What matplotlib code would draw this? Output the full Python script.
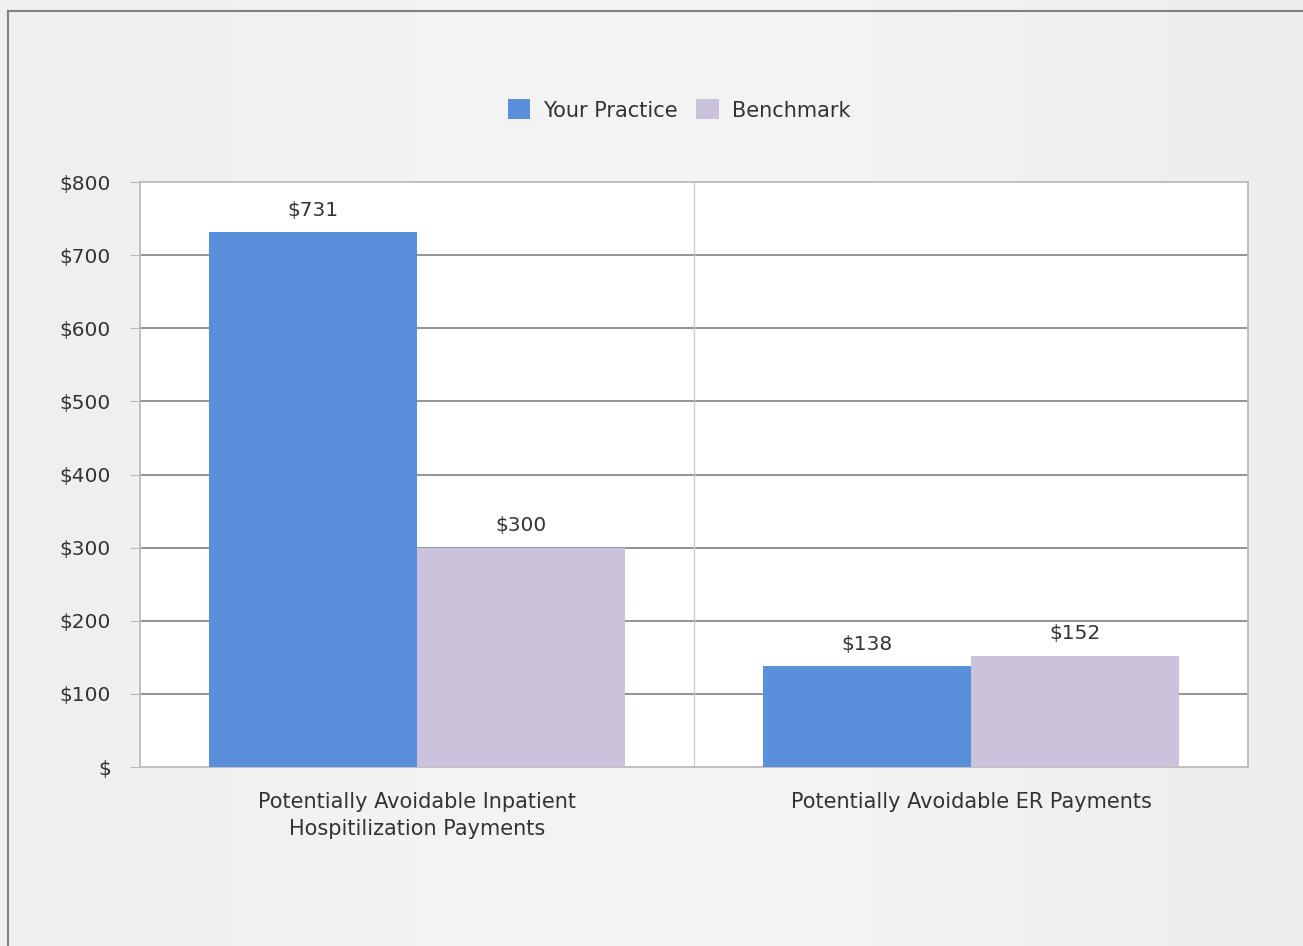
import matplotlib
matplotlib.use('Agg')
import matplotlib.pyplot as plt
import numpy as np

plt.rcParams['font.family'] = ['DejaVu Sans']

categories = ['Potentially Avoidable Inpatient\nHospitilization Payments',
              'Potentially Avoidable ER Payments']
practice = [731, 138]
benchmark = [300, 152]
series_names = ['Your Practice', 'Benchmark']
yticks = [0, 100, 200, 300, 400, 500, 600, 700, 800]
ytick_labels = ['$', '$100', '$200', '$300', '$400', '$500', '$600', '$700', '$800']

blue = '#5A8FDB'
lilac = '#CBC2DC'
txt = '#333333'

fig = plt.figure(figsize=(13.03, 9.46), dpi=100)
fig.patch.set_facecolor('#EFEFEF')

# subtle horizontal gradient in the background
bg = fig.add_axes([0, 0, 1, 1], zorder=-10)
grad = np.array([[0.935, 0.95, 0.955, 0.95, 0.93]])
bg.imshow(grad, cmap='gray', vmin=0, vmax=1, aspect='auto', extent=[0, 1, 0, 1],
          interpolation='bicubic')
bg.set_axis_off()

# outer frame (left and top)
fig.add_artist(plt.Line2D([8/1303, 8/1303], [0, 1 - 11/946], color='#808080', lw=1.5))
fig.add_artist(plt.Line2D([8/1303, 1], [1 - 11/946, 1 - 11/946], color='#808080', lw=1.5))

ax = fig.add_axes([140/1303, 1 - 767/946, (1248 - 140)/1303, (767 - 182)/946])
ax.set_facecolor('white')

x = np.arange(len(categories))
w = 0.375
b1 = ax.bar(x - w/2, practice, w, color=blue, label=series_names[0], zorder=3)
b2 = ax.bar(x + w/2, benchmark, w, color=lilac, label=series_names[1], zorder=3)

for bars, vals in ((b1, practice), (b2, benchmark)):
    for r, v in zip(bars, vals):
        ax.annotate('$%d' % v, (r.get_x() + r.get_width()/2, v), xytext=(0, 9),
                    textcoords='offset points', ha='center', va='bottom',
                    fontsize=14.5, color=txt)

ax.set_xlim(-0.5, 1.5)
ax.set_ylim(0, 800)
ax.set_yticks(yticks)
ax.set_yticklabels(ytick_labels)
ax.set_xticks(x)
ax.set_xticklabels(categories, linespacing=1.45)
ax.tick_params(axis='y', length=7, color='#BBBBBB', labelsize=14.5, labelcolor=txt, pad=14)
ax.tick_params(axis='x', length=0, labelsize=15, labelcolor=txt, pad=18)

for yv in yticks[1:-1]:
    ax.axhline(yv, color='#8A8A8A', lw=1.3, zorder=1)
ax.axvline(0.5, color='#CCCCCC', lw=1, zorder=1)

for s in ax.spines.values():
    s.set_color('#BBBBBB')
    s.set_linewidth(1.3)

leg = fig.legend(loc='center', bbox_to_anchor=(0.521, 1 - 110/946), ncol=2, frameon=False,
                 fontsize=15, handlelength=1.1, handleheight=1.1, handletextpad=0.6,
                 columnspacing=0.9, labelcolor=txt)

fig.savefig('out.png', dpi=100, facecolor=fig.get_facecolor())
